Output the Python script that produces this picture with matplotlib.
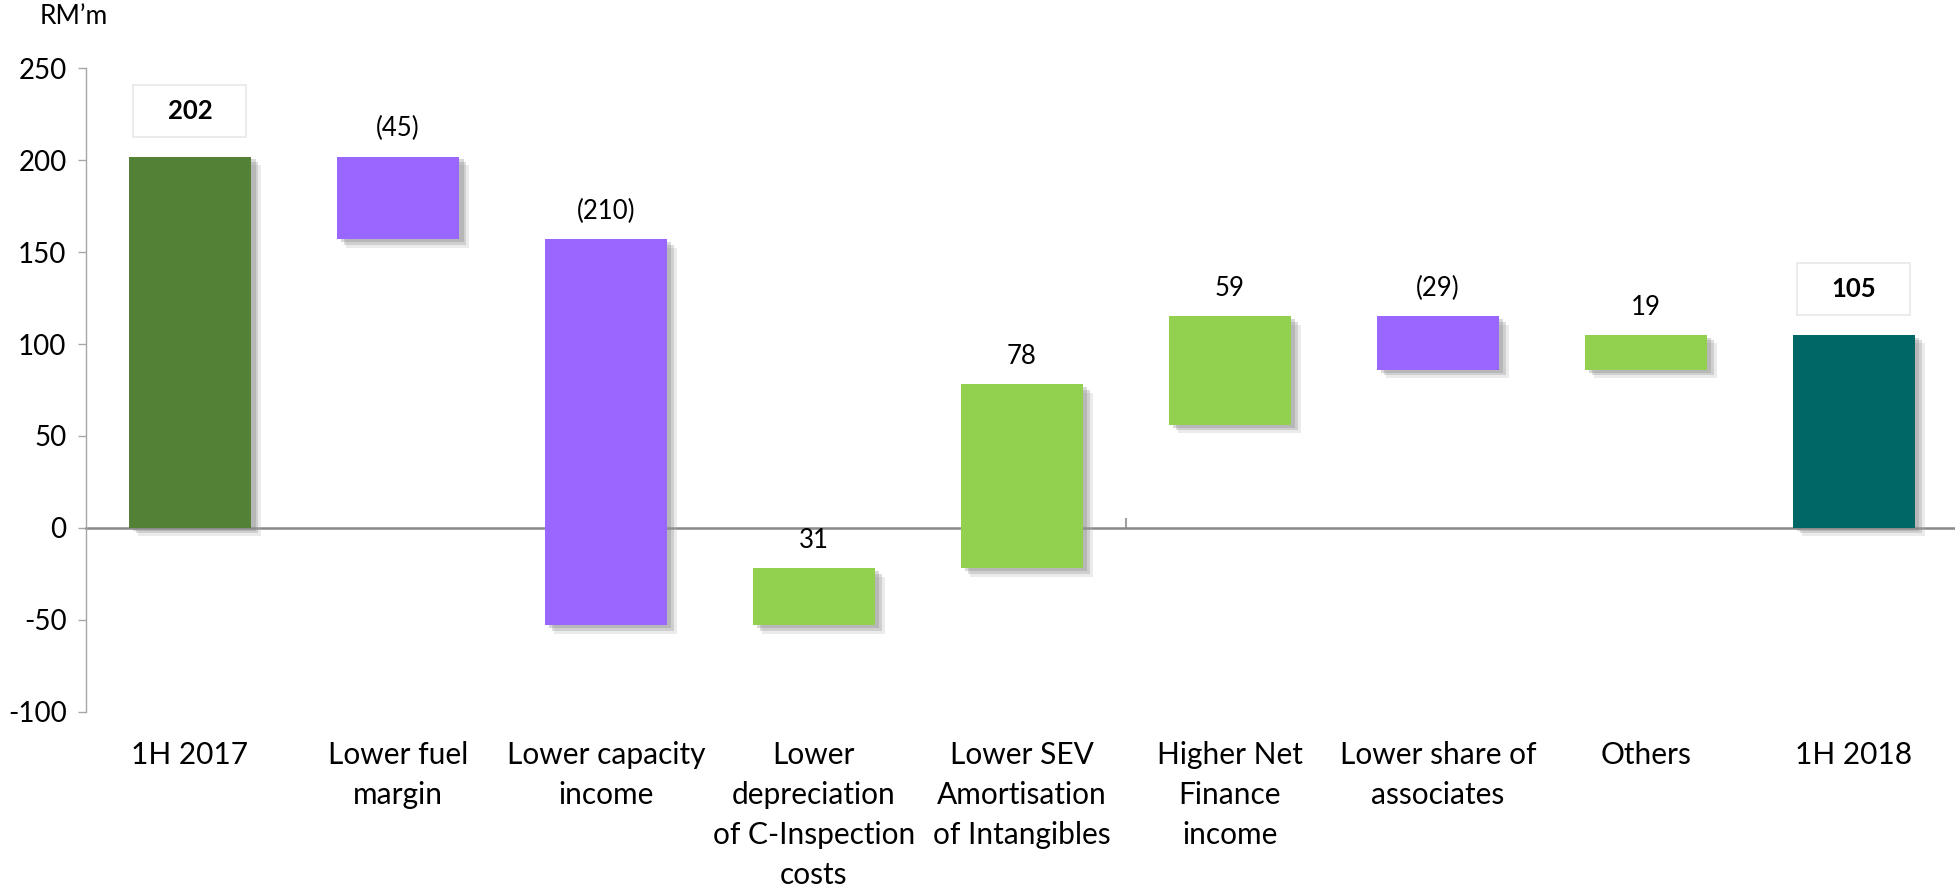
import numpy as np
import matplotlib
matplotlib.use("Agg")
import matplotlib.pyplot as plt
import matplotlib.patheffects as pe
from matplotlib.path import Path

plt.rcParams['font.family'] = ['Lato', 'DejaVu Sans']
plt.rcParams['axes.unicode_minus'] = False

categories = ["1H 2017", "Lower fuel\nmargin", "Lower capacity\nincome",
              "Lower\ndepreciation\nof C-Inspection\ncosts",
              "Lower SEV\nAmortisation\nof Intangibles", "Higher Net\nFinance\nincome",
              "Lower share of\nassociates", "Others", "1H 2018"]
# bar extents as drawn in the reference (RM'm)
bar_low = [0, 157, -53, -53, -22, 56, 86, 86, 0]
bar_high = [202, 202, 157, -22, 78, 115, 115, 105, 105]
kind = ["start", "neg", "neg", "pos", "pos", "pos", "neg", "pos", "end"]
labels = ["202", "(45)", "(210)", "31", "78", "59", "(29)", "19", "105"]

colors = {"start": "#538135", "neg": "#9966FF", "pos": "#92D050", "end": "#006666"}


def fixed_box(x0, y0, width, height, mutation_size):
    # box of fixed pixel size centred on the label
    cx, cy = x0 + width / 2, y0 + height / 2
    w, h = 113, 52
    verts = [(cx - w / 2, cy - h / 2), (cx + w / 2, cy - h / 2),
             (cx + w / 2, cy + h / 2), (cx - w / 2, cy + h / 2), (cx - w / 2, cy - h / 2)]
    return Path(verts, closed=True)


fig = plt.figure(figsize=(19.55, 8.9), dpi=100)
ax = fig.add_axes([86 / 1955, 1 - 711.7 / 890, 1 - 86 / 1955, (711.7 - 68.3) / 890])

x = np.arange(len(categories))
low = np.array(bar_low)
high = np.array(bar_high)
cols = [colors[k] for k in kind]
shadow = [pe.SimplePatchShadow(offset=(7, -6), shadow_rgbFace="#b0b0b0", alpha=0.25),
          pe.SimplePatchShadow(offset=(5, -4), shadow_rgbFace="#909090", alpha=0.3),
          pe.SimplePatchShadow(offset=(3, -2), shadow_rgbFace="#808080", alpha=0.3),
          pe.Normal()]
bars = ax.bar(x, high - low, bottom=low, width=0.59, color=cols, zorder=3)
for b in bars:
    b.set_path_effects(shadow)

for i in range(len(categories)):
    top = high[i]
    if kind[i] in ("start", "end"):
        ax.annotate(labels[i], (x[i], top), xytext=(0, 33), textcoords="offset points",
                    ha="center", va="center", fontsize=18.5, fontweight="bold", color="black",
                    bbox=dict(boxstyle=fixed_box, fc="white", ec="#e8e8e8", lw=1.2),
                    zorder=5)
    else:
        ax.annotate(labels[i], (x[i], top), xytext=(0, 20), textcoords="offset points",
                    ha="center", va="center", fontsize=18.5, color="black", zorder=5)

ax.set_ylim(-100, 250)
ax.set_xlim(-0.5, 8.486)
ax.set_yticks(np.arange(-100, 251, 50))
ax.tick_params(axis="y", labelsize=20, length=6, color="#a6a6a6", width=1, pad=8)

for s in ["top", "right"]:
    ax.spines[s].set_visible(False)
ax.spines["left"].set_color("#a6a6a6")
ax.spines["left"].set_linewidth(1)
ax.spines["bottom"].set_position(("data", 0))
ax.spines["bottom"].set_color("#898989")
ax.spines["bottom"].set_linewidth(1.8)
ax.spines["bottom"].set_zorder(2)

ax.set_xticks([])
ax.set_xticks([4.5], minor=True)
ax.tick_params(axis="x", which="minor", direction="in", length=7, width=1.5, color="#a0a0a0",
               labelbottom=False)

sec = ax.secondary_xaxis("bottom")
sec.set_xticks(x, categories)
sec.spines["bottom"].set_visible(False)
sec.tick_params(length=0, pad=21, labelsize=21.5)
for t in sec.get_xticklabels():
    t.set_linespacing(1.53)
    t.set_va("top")

fig.text(40 / 1955, 1 - 16 / 890, "RM\u2019m", fontsize=19, ha="left", va="center")

fig.savefig("out.png", dpi=100)
